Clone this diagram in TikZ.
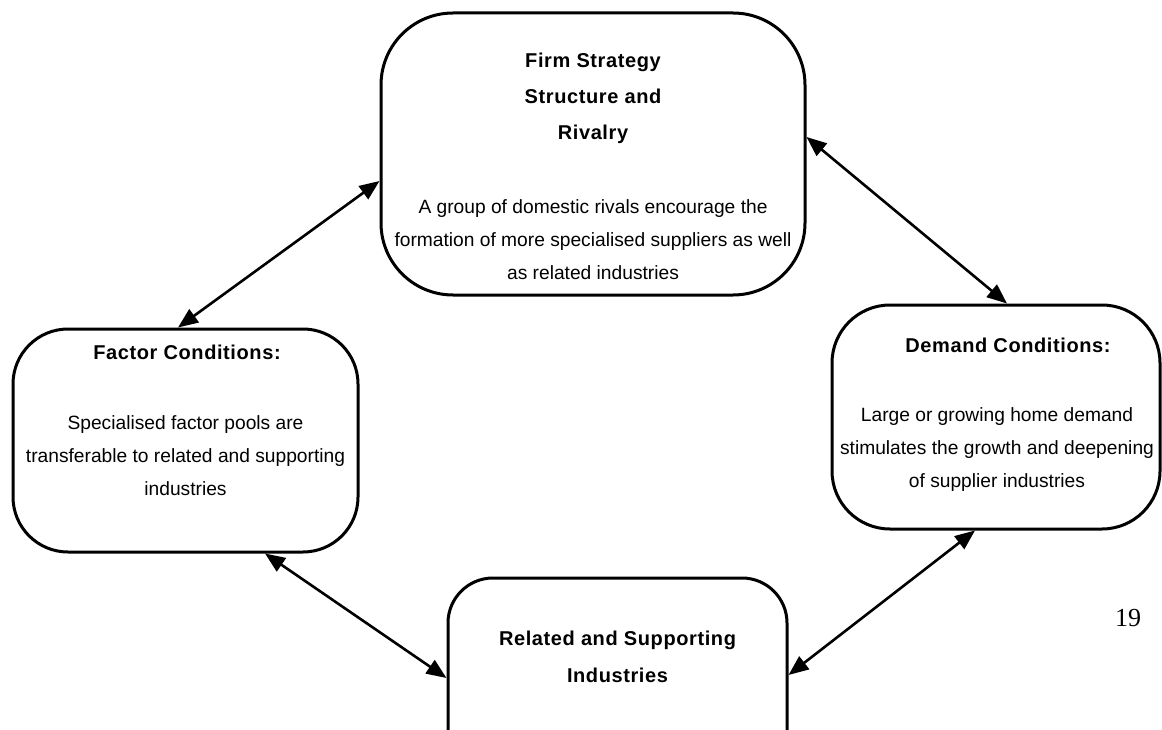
\documentclass[tikz,border=0pt]{standalone}
\usepackage{fontspec}
\setmainfont{Liberation Sans}
\newfontfamily\titlefont{Liberation Sans}[LetterSpace=3]
\newfontfamily\pagefont{Liberation Serif}
\usetikzlibrary{arrows.meta}
\tikzset{
  boxshape/.style={draw=black, line width=3pt, rectangle, inner sep=0pt, fill=none},
  link/.style={line width=2.6pt, {Triangle[length=20pt,width=16pt]}-{Triangle[length=20pt,width=16pt]}},
  titletext/.style={align=center, inner sep=0pt, font=\titlefont\bfseries\fontsize{20}{36}\selectfont},
  bodytext/.style={align=center, inner sep=0pt, font=\fontsize{19.2}{33}\selectfont},
}
\begin{document}
\begin{tikzpicture}[x=1pt,y=-1pt]
\clip (0,0) rectangle (1162,730);
\fill[white] (0,0) rectangle (1162,730);
% boxes
\node[boxshape, minimum width=424pt, minimum height=282pt, rounded corners=72pt] (top) at (593,154) {};
\node[boxshape, minimum width=345pt, minimum height=223pt, rounded corners=55pt] (left) at (185.5,440.5) {};
\node[boxshape, minimum width=328pt, minimum height=224pt, rounded corners=58pt] (right) at (996,417) {};
\node[boxshape, minimum width=339pt, minimum height=200pt, rounded corners=45pt] (bottom) at (617.5,678) {};
% texts
\node[titletext] (toptitle) at (593,98.5) {Firm Strategy\\Structure and\\Rivalry};
\node[bodytext] (topbody) at (593,240) {A group of domestic rivals encourage the\\formation of more specialised suppliers as well\\as related industries};
\node[titletext] (lefttitle) at (187,352) {Factor Conditions:};
\node[bodytext] (leftbody) at (185.5,456) {Specialised factor pools are\\transferable to related and supporting\\industries};
\node[titletext] (righttitle) at (1008,345) {Demand Conditions:};
\node[bodytext] (rightbody) at (997,450) {Large or growing home demand\\stimulates the growth and deepening\\of supplier industries};
\node[titletext, font=\titlefont\bfseries\fontsize{20}{37}\selectfont] (bottomtitle) at (617.5,656.5) {Related and Supporting\\Industries};
\node[inner sep=0pt, font=\pagefont\fontsize{26}{30}\selectfont] (pagenum) at (1128,618) {19};
% connectors
\draw[link] ([xshift=-7.5pt]left.north) -- ([yshift=-27pt]top.west);
\draw[link] ([yshift=17pt]top.east) -- ([xshift=11pt]right.north);
\draw[link] ([xshift=79.5pt]left.south) -- (bottom.west);
\draw[link] ([xshift=-21pt]right.south) -- ([yshift=3pt]bottom.east);
\end{tikzpicture}
\end{document}
